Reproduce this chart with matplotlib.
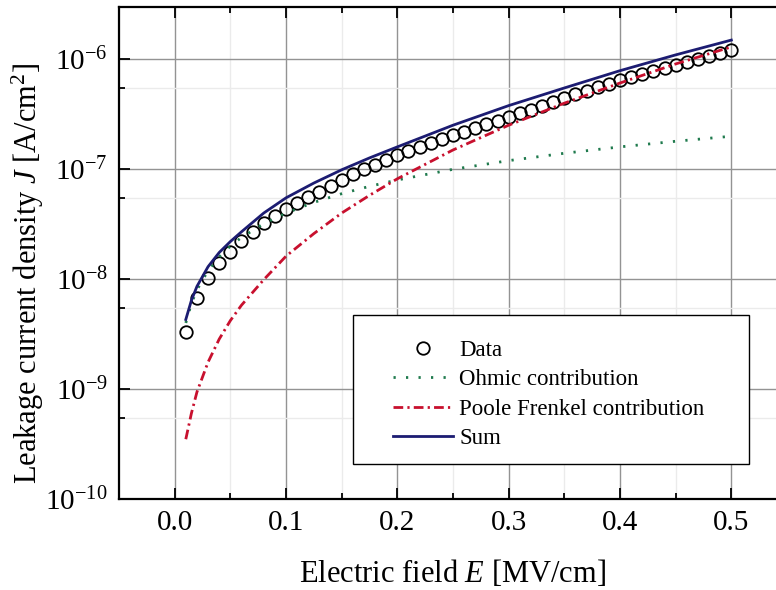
import matplotlib
matplotlib.use("Agg")
import matplotlib.pyplot as plt
from matplotlib.ticker import FixedLocator, MultipleLocator, LogFormatterSciNotation, NullFormatter
from matplotlib.patches import Rectangle
from matplotlib.lines import Line2D

plt.rcParams['font.family'] = ['Liberation Serif', 'DejaVu Serif']
plt.rcParams['mathtext.fontset'] = 'custom'
plt.rcParams['mathtext.rm'] = 'Liberation Serif'
plt.rcParams['mathtext.it'] = 'Liberation Serif:italic'
plt.rcParams['mathtext.bf'] = 'Liberation Serif:bold'

# ---- data ----
E_data = [0.01, 0.02, 0.03, 0.04, 0.05, 0.06, 0.07, 0.08, 0.09, 0.10,
          0.11, 0.12, 0.13, 0.14, 0.15, 0.16, 0.17, 0.18, 0.19, 0.20,
          0.21, 0.22, 0.23, 0.24, 0.25, 0.26, 0.27, 0.28, 0.29, 0.30,
          0.31, 0.32, 0.33, 0.34, 0.35, 0.36, 0.37, 0.38, 0.39, 0.40,
          0.41, 0.42, 0.43, 0.44, 0.45, 0.46, 0.47, 0.48, 0.49, 0.50]
J_data = [3.3e-9, 6.7e-9, 1.02e-8, 1.4e-8, 1.77e-8, 2.25e-8, 2.7e-8, 3.25e-8, 3.8e-8, 4.35e-8,
          4.9e-8, 5.6e-8, 6.2e-8, 7.1e-8, 8.0e-8, 9.0e-8, 1.0e-7, 1.1e-7, 1.22e-7, 1.34e-7,
          1.46e-7, 1.58e-7, 1.72e-7, 1.88e-7, 2.05e-7, 2.2e-7, 2.38e-7, 2.58e-7, 2.78e-7, 3.0e-7,
          3.25e-7, 3.5e-7, 3.8e-7, 4.1e-7, 4.45e-7, 4.8e-7, 5.2e-7, 5.6e-7, 6.0e-7, 6.45e-7,
          6.9e-7, 7.4e-7, 7.9e-7, 8.4e-7, 8.9e-7, 9.4e-7, 1.0e-6, 1.07e-6, 1.15e-6, 1.23e-6]

E_fit = [0.01, 0.015, 0.02, 0.03, 0.04, 0.05, 0.06, 0.08, 0.10, 0.125,
         0.15, 0.175, 0.20, 0.25, 0.30, 0.35, 0.40, 0.45, 0.50]
J_ohmic = [4e-9, 6e-9, 8e-9, 1.2e-8, 1.6e-8, 2e-8, 2.4e-8, 3.2e-8, 4e-8, 5e-8,
           6e-8, 7e-8, 8e-8, 1e-7, 1.2e-7, 1.4e-7, 1.6e-7, 1.8e-7, 2e-7]
J_pf = [3.5e-10, 6.0e-10, 9.4e-10, 1.76e-9, 2.85e-9, 4.2e-9, 5.8e-9, 9.9e-9, 1.62e-8, 2.6e-8,
        4.0e-8, 5.8e-8, 8.2e-8, 1.5e-7, 2.52e-7, 4.0e-7, 6.1e-7, 9.1e-7, 1.3e-6]
J_sum = [4.3e-9, 6.4e-9, 8.6e-9, 1.3e-8, 1.75e-8, 2.2e-8, 2.7e-8, 4.0e-8, 5.5e-8, 7.5e-8,
         9.9e-8, 1.27e-7, 1.6e-7, 2.52e-7, 3.8e-7, 5.5e-7, 7.9e-7, 1.1e-6, 1.5e-6]

labels = ["Data", "Ohmic contribution", "Poole Frenkel contribution", "Sum"]
x_ticks = [0.0, 0.1, 0.2, 0.3, 0.4, 0.5]
y_ticks = [1e-10, 1e-9, 1e-8, 1e-7, 1e-6]
y_minor = [5.5e-10, 5.5e-9, 5.5e-8, 5.5e-7]

W, H = 776, 590
fig = plt.figure(figsize=(W / 100, H / 100), dpi=100)
ax = fig.add_axes([119 / W, 91 / H, 668 / W, 492 / H])

ax.set_yscale('log')
ax.set_xlim(-0.05, 0.55)
ax.set_ylim(1e-10, 3e-6)

c_ohm = '#1f7a4d'
c_pf = '#c8102e'
c_sum = '#1c1c72'

ax.plot(E_data, J_data, linestyle='none', marker='o', markersize=9,
        markerfacecolor='none', markeredgecolor='black', markeredgewidth=1.3, zorder=2)
l_ohm, = ax.plot(E_fit, J_ohmic, color=c_ohm, lw=2.0, dashes=(0.8, 3.7), zorder=3)
l_pf, = ax.plot(E_fit, J_pf, color=c_pf, lw=2.0, dashes=(3.5, 1.5, 0.8, 1.5), zorder=3)
l_sum, = ax.plot(E_fit, J_sum, color=c_sum, lw=2.0, zorder=3)

ax.xaxis.set_major_locator(FixedLocator(x_ticks))
ax.xaxis.set_minor_locator(MultipleLocator(0.05))
ax.yaxis.set_major_locator(FixedLocator(y_ticks))
ax.yaxis.set_minor_locator(FixedLocator(y_minor))
ax.yaxis.set_major_formatter(LogFormatterSciNotation())
ax.yaxis.set_minor_formatter(NullFormatter())
ax.set_xticklabels([f"{v:.1f}" for v in x_ticks])

ax.grid(True, which='major', color='#939393', lw=1.0, zorder=0)
ax.grid(True, which='minor', color='#ebebeb', lw=1.0, zorder=0)
ax.set_axisbelow(True)

for s in ax.spines.values():
    s.set_linewidth(1.6)
ax.tick_params(which='both', direction='in', top=True, right=True, width=1.3, colors='black')
ax.tick_params(which='major', length=8, labelsize=21, pad=8)
ax.tick_params(which='minor', length=4)

ax.set_xlabel(r"Electric field $E$ [MV/cm]", fontsize=22, va='center')
ax.xaxis.set_label_coords(0.5, (499 - 573) / 492)
ax.set_ylabel(r"Leakage current density $J$ [A/cm$^2$]", fontsize=22, va='center')
ax.yaxis.set_label_coords((28 - 119) / 668, (499 - 273) / 492)

# legend frame
rect = Rectangle(((353 - 119) / 668, (499 - 464) / 492), (749 - 353) / 668, (464 - 315) / 492,
                 transform=ax.transAxes, facecolor='white', edgecolor='black', lw=1.0, zorder=4)
ax.add_patch(rect)
h_data = Line2D([], [], linestyle='none', marker='o', markersize=9,
                markerfacecolor='none', markeredgecolor='black', markeredgewidth=1.3)
leg = ax.legend([h_data, l_ohm, l_pf, l_sum], labels, loc='upper left',
                bbox_to_anchor=((393 - 119) / 668, (499 - 340) / 492),
                frameon=False, fontsize=16.5, handlelength=2.6, handletextpad=0.3,
                labelspacing=0.36, borderpad=0, borderaxespad=0, numpoints=1)
leg.set_zorder(5)

fig.savefig("out.png", dpi=100)
